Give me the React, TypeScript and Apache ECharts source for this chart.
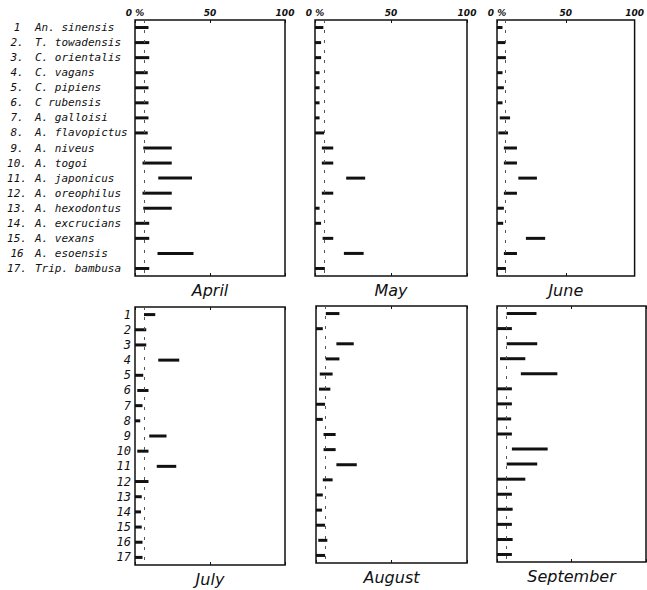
import React, { useEffect, useRef } from "react";
import * as echarts from "echarts";

const rowNums = ["1", "2.", "3.", "4.", "5.", "6.", "7.", "8.", "9.", "10.", "11.", "12.", "13.", "14.", "15.", "16", "17."];
const species = [
  "An. sinensis", "T. towadensis", "C. orientalis", "C. vagans", "C. pipiens", "C rubensis",
  "A. galloisi", "A. flavopictus", "A. niveus", "A. togoi", "A. japonicus", "A. oreophilus",
  "A. hexodontus", "A. excrucians", "A. vexans", "A. esoensis", "Trip. bambusa",
];
const shortNums = ["1", "2", "3", "4", "5", "6", "7", "8", "9", "10", "11", "12", "13", "14", "15", "16", "17"];
const months = ["April", "May", "June", "July", "August", "September"];
const xTicks = [0, 50, 100];
const dashedRef = 6;

const aprilStart = [0, 0, 0, 0, 0, 0, 0, 0, 5.5, 5, 15.5, 5, 5.5, 0, 0, 15, 0];
const aprilEnd = [9, 9.5, 9.5, 8.5, 9, 9, 9, 8.5, 24.5, 24.5, 38, 24.5, 24.5, 9.5, 9.5, 39, 9.5];
const mayStart = [0, 0, 0, 0, 0, 0, 0, 0, 4.5, 4.5, 20.5, 4.5, 0, 0, 5, 19, 0];
const mayEnd = [5.5, 4, 4, 3, 3, 3, 3, 6, 12, 12, 33, 12, 3, 4, 12, 32, 6.5];
const juneStart = [0, 0, 0, 0, 0, 0, 2, 1, 5, 5, 15.5, 5, 0, 0, 21, 5, 0];
const juneEnd = [4, 6, 6.5, 4, 5, 4, 9.5, 8, 14.5, 14.5, 29, 14.5, 5, 4.5, 35, 14.5, 6.5];
const julyStart = [6, 0, 0, 15.5, 0, 1.5, 0, 0, 9.5, 1.5, 14.5, 0, 0, 0, 0, 0, 0];
const julyEnd = [13.5, 7.5, 7.5, 29.5, 5.5, 9, 5, 3.5, 21, 9, 27.5, 9, 4.5, 4, 4.5, 5, 5];
const augStart = [6.5, 0, 13.5, 6.5, 2.5, 2, 0, 0, 5, 5, 13.5, 4.5, 0, 0, 0, 1.5, 0];
const augEnd = [15.5, 4.5, 25, 15.5, 11, 9.5, 6, 4.5, 13, 13, 27, 11, 4.5, 4, 6, 7.5, 6];
const sepStart = [6.5, 0, 6.5, 2, 16, 0, 0, 0, 0, 10, 6.5, 0, 0, 0, 0, 0, 0];
const sepEnd = [26.5, 10, 27, 19, 40.5, 10, 10, 9.5, 10, 34, 27, 19, 10, 10.5, 10, 10.5, 10];

const starts = [aprilStart, mayStart, juneStart, julyStart, augStart, sepStart];
const ends = [aprilEnd, mayEnd, juneEnd, julyEnd, augEnd, sepEnd];

const gridBoxes = [
  { left: 135, top: 20, width: 150, height: 256 },
  { left: 315, top: 20, width: 152, height: 256 },
  { left: 497, top: 20, width: 149, height: 256 },
  { left: 135, top: 307, width: 150, height: 258 },
  { left: 316, top: 306, width: 151, height: 257 },
  { left: 497, top: 306, width: 149, height: 256 },
];

const INK = "#111";

export default function App() {
  const ref = useRef<HTMLDivElement>(null);
  useEffect(() => {
    if (!ref.current) return;
    const chart = echarts.init(ref.current, null, { renderer: "svg" });
    const grid: any[] = [];
    const xAxis: any[] = [];
    const yAxis: any[] = [];
    const series: any[] = [];
    months.forEach((m, i) => {
      const b = gridBoxes[i];
      grid.push({ ...b, show: true, borderColor: INK, borderWidth: 1.5, backgroundColor: "transparent" });
      const topRow = i < 3;
      xAxis.push({
        type: "value", gridIndex: i, position: "top", min: 0, max: 100, interval: 50,
        axisLine: { show: false }, splitLine: { show: false },
        axisTick: { show: true, inside: true, length: 3, lineStyle: { color: INK } },
        axisLabel: {
          show: topRow, margin: 3, color: INK, fontSize: 9, fontStyle: "italic", fontWeight: "bold",
          fontFamily: "DejaVu Sans",
          formatter: (v: number) => (v === xTicks[0] ? "0 %" : String(v)),
        },
      });
      xAxis.push({
        type: "value", gridIndex: i, position: "bottom", min: 0, max: 100, interval: 50,
        axisLine: { show: false }, splitLine: { show: false },
        axisTick: { show: true, inside: true, length: 3, lineStyle: { color: INK } },
        axisLabel: { show: false },
        name: m, nameLocation: "middle", nameGap: 6,
        nameTextStyle: { color: INK, fontSize: 16, fontStyle: "italic", fontFamily: "DejaVu Sans", verticalAlign: "top" },
      });
      let axisLabel: any = { show: false };
      if (i === 0) {
        axisLabel = {
          show: true, interval: 0, align: "left", margin: 130, color: INK,
          formatter: (_v: string, idx: number) => `{n|${rowNums[idx]}}{s|${species[idx]}}`,
          rich: {
            n: { width: 24, align: "right", fontSize: 11, fontStyle: "italic", fontFamily: "DejaVu Sans Mono", color: INK },
            s: { padding: [0, 0, 0, 6], fontSize: 11, fontStyle: "italic", fontFamily: "DejaVu Sans Mono", color: INK },
          },
        };
      } else if (i === 3) {
        axisLabel = {
          show: true, interval: 0, margin: 4, color: INK, fontSize: 12, fontStyle: "italic", fontFamily: "DejaVu Sans Mono",
        };
      }
      yAxis.push({
        type: "category", gridIndex: i, inverse: true,
        data: i === 0 ? species : shortNums,
        axisLine: { show: false }, axisTick: { show: false }, splitLine: { show: false },
        axisLabel,
      });
      const xi = i * 2;
      series.push({
        type: "bar", name: m + " base", xAxisIndex: xi, yAxisIndex: i, stack: "s" + i,
        barWidth: 3, silent: true,
        itemStyle: { color: "transparent" },
        data: starts[i],
        markLine: {
          silent: true, symbol: ["none", "none"], label: { show: false },
          lineStyle: { type: [3, 7], color: "#555", width: 1 },
          data: [{ xAxis: dashedRef }],
        },
      });
      series.push({
        type: "bar", name: m, xAxisIndex: xi, yAxisIndex: i, stack: "s" + i,
        barWidth: 3, itemStyle: { color: INK },
        data: ends[i].map((e, k) => +(e - starts[i][k]).toFixed(2)),
      });
    });
    chart.setOption({ animation: false, backgroundColor: "#fff", grid, xAxis, yAxis, series });
    return () => chart.dispose();
  }, []);
  return <div ref={ref} style={{ position: "fixed", left: 0, top: 0, width: 647, height: 590 }} />;
}
